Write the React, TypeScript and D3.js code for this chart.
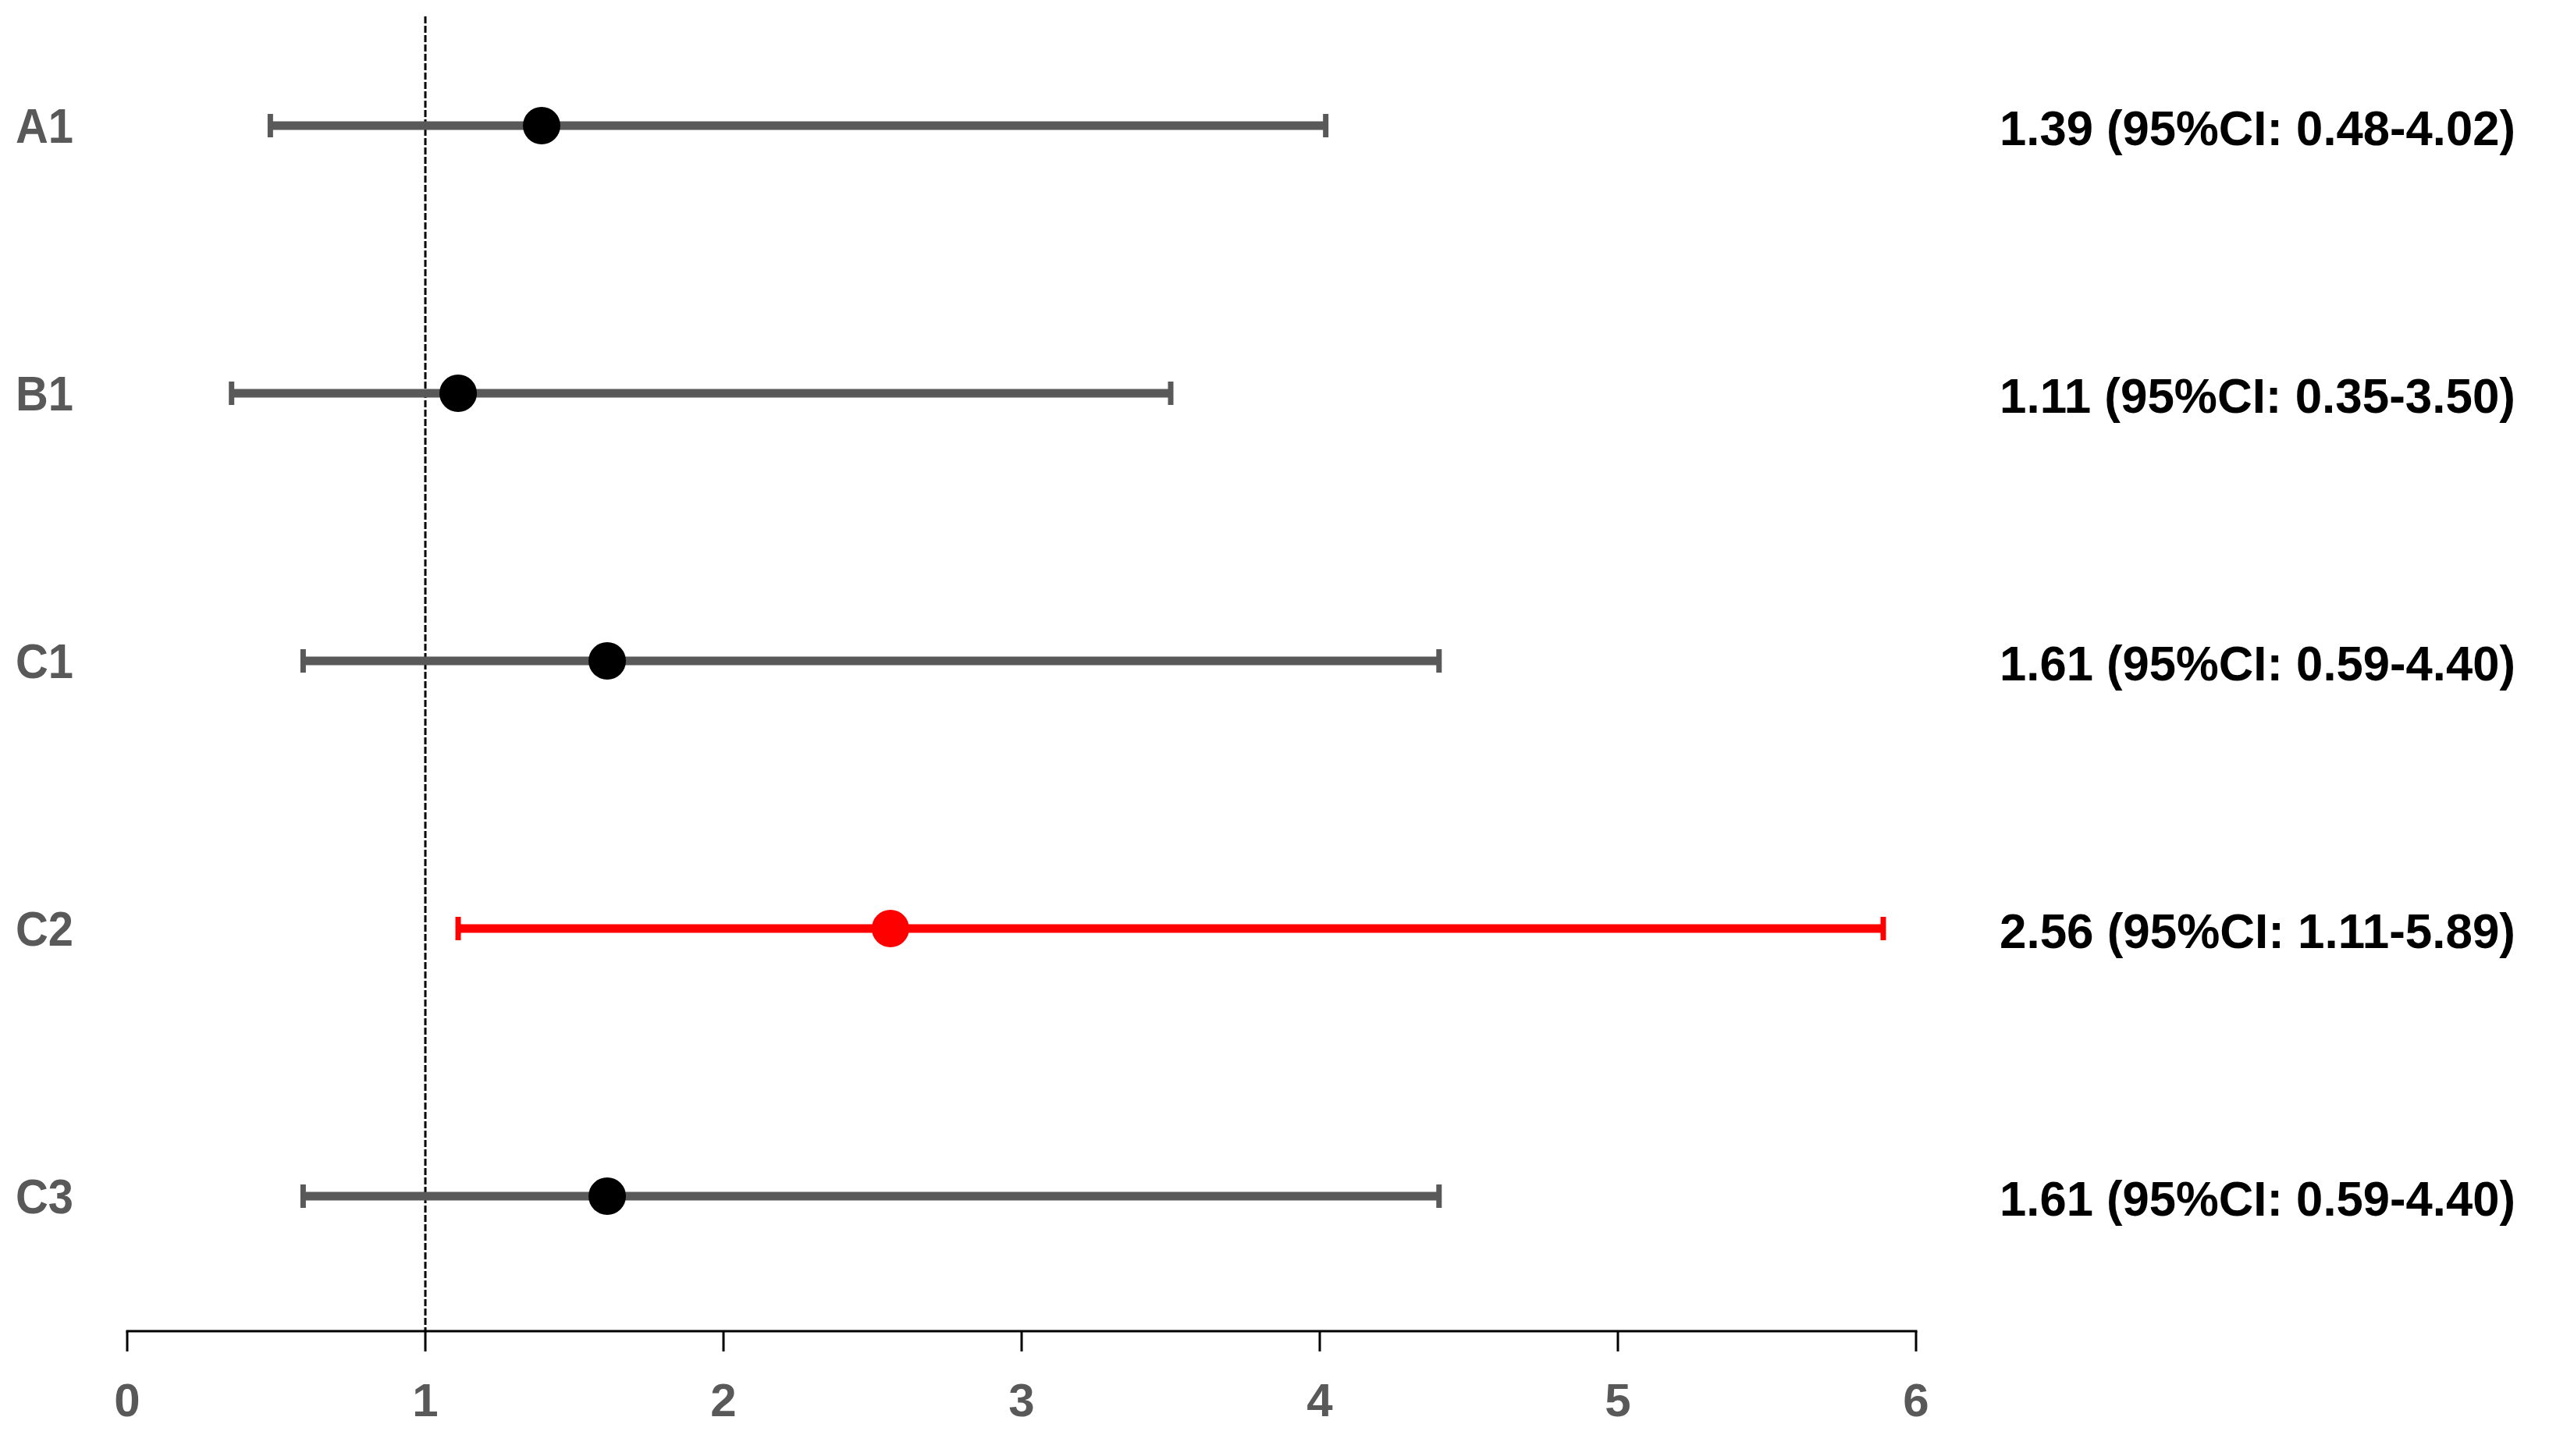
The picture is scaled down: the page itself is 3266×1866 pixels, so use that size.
import React from "react";
import * as d3 from "d3";

const categories = ["A1", "B1", "C1", "C2", "C3"];
const estimates = [1.39, 1.11, 1.61, 2.56, 1.61];
const lowers = [0.48, 0.35, 0.59, 1.11, 0.59];
const uppers = [4.02, 3.5, 4.4, 5.89, 4.4];
const highlighted = [false, false, false, true, false];
const labels = [
  "1.39 (95%CI: 0.48-4.02)",
  "1.11 (95%CI: 0.35-3.50)",
  "1.61 (95%CI: 0.59-4.40)",
  "2.56 (95%CI: 1.11-5.89)",
  "1.61 (95%CI: 0.59-4.40)",
];
const xTicks = [0, 1, 2, 3, 4, 5, 6];
const refValue = 1;

const W = 3266;
const H = 1866;
const FONT = "'Liberation Sans', Arial, sans-serif";

export default function App() {
  const x = d3.scaleLinear().domain([0, 6]).range([163, 2455]);
  const y = d3.scalePoint<string>().domain(categories).range([161, 1533]);
  const axisY = 1706;
  const grey = "#595959";

  return (
    <svg
      width={W}
      height={H}
      style={{ position: "absolute", left: 0, top: 0, background: "#fff" }}
    >
      {/* reference line */}
      <line
        x1={x(refValue)}
        x2={x(refValue)}
        y1={21}
        y2={axisY}
        stroke="#000"
        strokeWidth={3}
        strokeDasharray="9,3"
      />
      {categories.map((c, i) => {
        const cy = y(c)!;
        const col = highlighted[i] ? "#ff0000" : grey;
        const dot = highlighted[i] ? "#ff0000" : "#000";
        return (
          <g key={c}>
            <text
              x={20}
              y={cy + 22}
              fontFamily={FONT}
              fontWeight="bold"
              fontSize={63}
              fill={grey}
              textLength={74}
              lengthAdjust="spacingAndGlyphs"
            >
              {c}
            </text>
            <line x1={x(lowers[i])} x2={x(uppers[i])} y1={cy} y2={cy} stroke={col} strokeWidth={11} />
            <line x1={x(lowers[i])} x2={x(lowers[i])} y1={cy - 15} y2={cy + 15} stroke={col} strokeWidth={7} />
            <line x1={x(uppers[i])} x2={x(uppers[i])} y1={cy - 15} y2={cy + 15} stroke={col} strokeWidth={7} />
            <circle cx={x(estimates[i])} cy={cy} r={24} fill={dot} />
            <text
              x={2562}
              y={cy + 25}
              fontFamily={FONT}
              fontWeight="bold"
              fontSize={63}
              fill="#000"
              textLength={661}
              lengthAdjust="spacingAndGlyphs"
            >
              {labels[i]}
            </text>
          </g>
        );
      })}
      {/* x axis */}
      <line x1={x(0) - 1.5} x2={x(6) + 1.5} y1={axisY} y2={axisY} stroke="#000" strokeWidth={3} />
      {xTicks.map((t) => (
        <g key={t}>
          <line x1={x(t)} x2={x(t)} y1={axisY} y2={axisY + 26} stroke="#000" strokeWidth={3} />
          <text
            x={x(t)}
            y={1815}
            textAnchor="middle"
            fontFamily={FONT}
            fontWeight="bold"
            fontSize={60}
            fill={grey}
          >
            {t}
          </text>
        </g>
      ))}
    </svg>
  );
}
